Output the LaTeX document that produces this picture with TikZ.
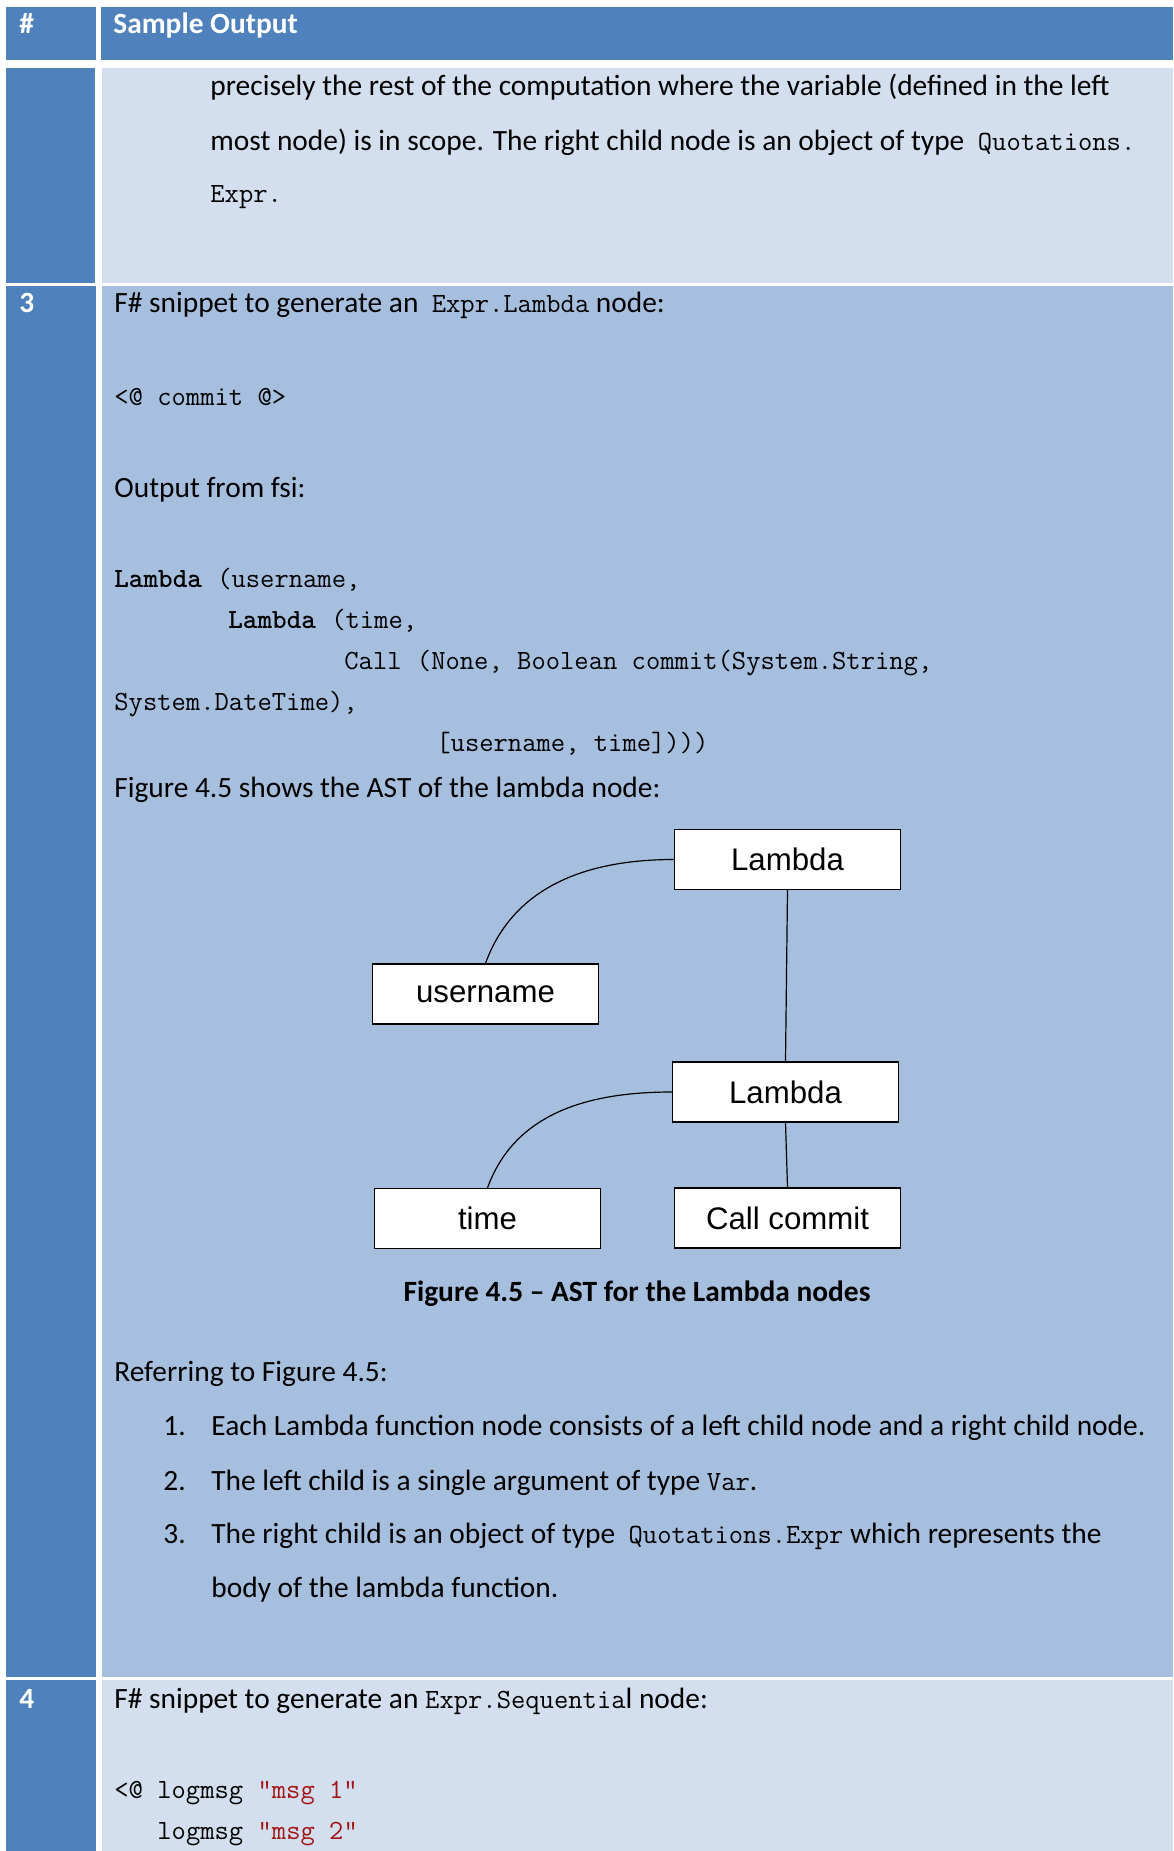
\documentclass[tikz,border=0pt]{standalone}
\usepackage{fontspec}
\setmainfont{Carlito}
\newfontfamily\arialfont{Liberation Sans}
\usetikzlibrary{positioning}
\definecolor{hdrblue}{HTML}{4F81BD}
\definecolor{rowlight}{HTML}{D3DFEE}
\definecolor{rowmid}{HTML}{A7BFDE}
\definecolor{strred}{HTML}{A31515}
\newcommand{\code}[1]{{\fontsize{13.9}{16}\selectfont\ttfamily #1}}
\tikzset{
  txt/.style={anchor=base west, inner sep=0pt, font=\fontsize{14.7}{17}\selectfont},
  rownum/.style={txt, text=white, font=\fontsize{14.7}{17}\selectfont\bfseries},
  astbox/.style={draw, fill=white, line width=0.7pt, minimum width=113pt,
    minimum height=30pt, inner sep=0pt, font=\arialfont\fontsize{15.6}{18}\selectfont},
  astline/.style={line width=0.6pt}
}
\begin{document}
\begin{tikzpicture}[x=0.5pt,y=-0.5pt]
\useasboundingbox (0,0) rectangle (1173,1851);
% table cells
\fill[hdrblue] (6,7) rectangle (96,60);
\fill[hdrblue] (101,7) rectangle (1173,60);
\fill[hdrblue] (6,68) rectangle (95,283);
\fill[rowlight] (102,68) rectangle (1173,283);
\fill[hdrblue] (6,286) rectangle (96,1677);
\fill[rowmid] (102,286) rectangle (1173,1677);
\fill[hdrblue] (6,1680) rectangle (96,1851);
\fill[rowlight] (102,1680) rectangle (1173,1851);
% header
\node[rownum] (hash) at (19,34) {\#};
\node[rownum] (sample) at (113,34) {Sample Output};
% row 2
\node[txt] (prec) at (210,96) {precisely the rest of the computation where the variable (defined in the left};
\node[txt] (most) at (210,151) {most node) is in scope. The right child node is an object of type\ \ \code{Quotations.}};
\node[txt] (expr) at (210,203) {\code{Expr.}};
% row 3
\node[rownum] (three) at (19,312) {3};
\node[txt] (snip) at (114,312) {F\# snippet to generate an\ \ \code{Expr.Lambda} node:};
\node[txt] (commit) at (114,405) {\code{<@ commit @>}};
\node[txt] (fsi) at (114,497) {Output from fsi:};
\node[txt] (outa) at (114,587) {\code{\textbf{Lambda}\hspace{0.55em}(username,}};
\node[txt] (outb) at (228,628) {\code{\textbf{Lambda}\hspace{0.55em}(time,}};
\node[txt] (outc) at (344,669) {\code{Call\hspace{0.55em}(None, Boolean commit(System.String,}};
\node[txt] (outd) at (114,710) {\code{System.DateTime),}};
\node[txt] (oute) at (436,751) {\code{[username, time])))}};
\node[txt] (shows) at (114,797) {Figure 4.5 shows the AST of the lambda node:};
% AST
\node[astbox] (lamA) at (787.5,859.5) {Lambda};
\node[astbox] (user) at (485.5,994) {username};
\node[astbox] (lamB) at (785.5,1092) {Lambda};
\node[astbox] (time) at (487.5,1218.5) {time};
\node[astbox] (call) at (787.5,1218) {Call commit};
\draw[astline] (lamA.west) to[out=180,in=70] (user.north);
\draw[astline] (lamA.south) -- (lamB.north);
\draw[astline] (lamB.west) to[out=180,in=70] (time.north);
\draw[astline] (lamB.south) -- (call.north);
\node[txt, anchor=base, font=\fontsize{14.7}{17}\selectfont\bfseries] (caption) at (637,1301) {Figure 4.5 -- AST for the Lambda nodes};
\node[txt] (refer) at (114,1381) {Referring to Figure 4.5:};
\node[txt] (n1) at (163,1435) {1.};
\node[txt] (i1) at (211,1435) {Each Lambda function node consists of a left child node and a right child node.};
\node[txt] (n2) at (163,1490) {2.};
\node[txt] (i2) at (211,1490) {The left child is a single argument of type \code{Var}.};
\node[txt] (n3) at (163,1543) {3.};
\node[txt] (i3) at (211,1543) {The right child is an object of type\ \ \code{Quotations.Expr} which represents the};
\node[txt] (i3b) at (211,1597) {body of the lambda function.};
% row 4
\node[rownum] (four) at (19,1708) {4};
\node[txt] (snipb) at (114,1708) {F\# snippet to generate an \code{Expr.Sequentia}l node:};
\node[txt] (logA) at (114,1798) {\code{<@ logmsg \textcolor{strred}{"msg 1"}}};
\node[txt] (logB) at (157,1839) {\code{logmsg \textcolor{strred}{"msg 2"}}};
\end{tikzpicture}
\end{document}
